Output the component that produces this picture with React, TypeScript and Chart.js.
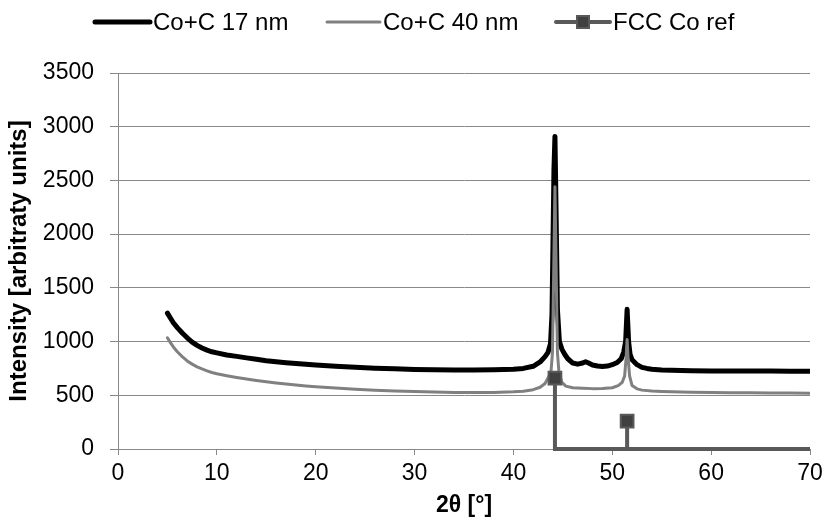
import React, { useEffect, useRef } from "react";
import { Chart, registerables } from "chart.js";

Chart.register(...registerables);

// XRD patterns: 2θ (degrees) vs intensity (arbitrary units)
const twoTheta17 = [
  5.0, 5.3, 5.6, 6.0, 6.5, 7.0, 7.5, 8.0, 8.5, 9.0, 9.5, 10.0, 11, 12, 13, 14, 15, 16, 17, 18, 19, 20,
  22, 24, 26, 28, 30, 32, 34, 36, 38, 40, 41, 42, 42.7, 43.2, 43.5, 43.75, 43.9, 44.0, 44.1, 44.2,
  44.3, 44.45, 44.65, 44.9, 45.2, 45.5, 46.0, 46.5, 47.0, 47.3, 47.6, 48.0, 48.5, 49.0, 49.5, 50.0,
  50.5, 50.9, 51.15, 51.35, 51.5, 51.65, 51.8, 52.0, 52.5, 53.0, 53.5, 54.0, 55, 56, 58, 60, 62, 64,
  66, 68, 70,
];
const intensity17 = [
  1265, 1220, 1175, 1130, 1080, 1035, 995, 965, 940, 920, 905, 895, 875, 862, 848, 835, 822, 812, 803,
  795, 788, 782, 770, 760, 752, 746, 741, 738, 736, 735, 737, 742, 750, 770, 810, 860, 900, 980, 1250,
  1900, 2600, 2910, 2300, 1300, 1000, 930, 880, 840, 800, 790, 800, 812, 800, 782, 772, 768, 772, 785,
  805, 840, 900, 1000, 1300, 1000, 880, 830, 785, 760, 750, 742, 735, 732, 728, 727, 726, 725, 725,
  724, 724,
];

const twoTheta40 = [
  5.0, 5.3, 5.6, 6.0, 6.5, 7.0, 7.5, 8.0, 8.5, 9.0, 9.5, 10.0, 11, 12, 13, 14, 15, 16, 17, 18, 19, 20,
  22, 24, 26, 28, 30, 32, 34, 36, 38, 40, 41, 42, 42.7, 43.2, 43.5, 43.8, 43.95, 44.05, 44.2, 44.35,
  44.45, 44.6, 44.9, 45.3, 46, 47, 48, 49, 50, 50.6, 51.0, 51.25, 51.4, 51.5, 51.6, 51.75, 52.0, 52.5,
  53, 54, 55, 56, 58, 60, 62, 64, 66, 68, 70,
];
const intensity40 = [
  1035, 990, 950, 905, 860, 820, 790, 765, 745, 728, 712, 700, 682, 666, 652, 638, 625, 614, 604, 595,
  587, 580, 568, 557, 548, 541, 535, 530, 527, 526, 527, 532, 538, 552, 575, 610, 660, 720, 900, 1500,
  2440, 1500, 900, 720, 620, 585, 570, 565, 562, 563, 570, 590, 620, 680, 850, 1020, 850, 680, 590,
  560, 548, 540, 535, 532, 528, 526, 524, 523, 522, 521, 520,
];

// FCC cobalt reference reflections drawn as sticks on the baseline
const refTwoTheta = [44.2, 44.2, 51.5, 51.5, 51.5, 70];
const refIntensity = [660, 0, 0, 260, 0, 0];

const seriesLabels = ["Co+C 17 nm", "Co+C 40 nm", "FCC Co ref"];
const xTickValues = [0, 10, 20, 30, 40, 50, 60, 70];
const yTickValues = [0, 500, 1000, 1500, 2000, 2500, 3000, 3500];

const FONT = "'Liberation Sans', Arial, sans-serif";
const GRID = "#888888";
const COLORS = ["#000000", "#808080", "#595959"];

const toPoints = (xs: number[], ys: number[]) => xs.map((x, i) => ({ x, y: ys[i] }));

const topLegend = {
  id: "topLegend",
  afterDraw(chart: any) {
    const ctx = chart.ctx as CanvasRenderingContext2D;
    const y = 22;
    const items = [
      { x0: 95, x1: 150, width: 5, color: COLORS[0], marker: false },
      { x0: 327, x1: 380, width: 3, color: COLORS[1], marker: false },
      { x0: 556, x1: 610, width: 4, color: COLORS[2], marker: true },
    ];
    ctx.save();
    ctx.font = `24px ${FONT}`;
    ctx.textBaseline = "middle";
    ctx.textAlign = "left";
    items.forEach((it, i) => {
      ctx.strokeStyle = it.color;
      ctx.lineWidth = it.width;
      ctx.lineCap = "round";
      ctx.beginPath();
      ctx.moveTo(it.x0, y);
      ctx.lineTo(it.x1, y);
      ctx.stroke();
      if (it.marker) {
        const cx = (it.x0 + it.x1) / 2;
        ctx.fillStyle = "#404040";
        ctx.strokeStyle = COLORS[2];
        ctx.lineWidth = 2;
        ctx.fillRect(cx - 6, y - 6, 12, 12);
        ctx.strokeRect(cx - 6, y - 6, 12, 12);
      }
      ctx.fillStyle = "#000";
      ctx.fillText(seriesLabels[i], it.x1 + 3, y + 1);
    });
    ctx.restore();
  },
};

export default function App() {
  const canvasRef = useRef<HTMLCanvasElement | null>(null);

  useEffect(() => {
    if (!canvasRef.current) return;
    const chart = new Chart(canvasRef.current, {
      type: "line",
      data: {
        datasets: [
          {
            label: seriesLabels[0],
            data: toPoints(twoTheta17, intensity17),
            borderColor: COLORS[0],
            borderWidth: 5,
            pointRadius: 0,
            borderJoinStyle: "round",
            borderCapStyle: "round",
            order: 2,
          },
          {
            label: seriesLabels[1],
            data: toPoints(twoTheta40, intensity40),
            borderColor: COLORS[1],
            borderWidth: 3,
            pointRadius: 0,
            borderJoinStyle: "round",
            borderCapStyle: "round",
            order: 1,
          },
          {
            label: seriesLabels[2],
            data: toPoints(refTwoTheta, refIntensity),
            borderColor: COLORS[2],
            borderWidth: 4,
            pointStyle: "rect",
            pointRadius: (c: any) => (c.raw && c.raw.y > 0 ? 9 : 0),
            pointBackgroundColor: "#404040",
            pointBorderColor: COLORS[2],
            pointBorderWidth: 2,
            clip: false,
            order: 0,
          } as any,
        ],
      },
      options: {
        responsive: false,
        animation: false,
        devicePixelRatio: 1,
        layout: { padding: { top: 73, right: 14, bottom: 0, left: 0 } },
        plugins: {
          legend: { display: false },
          tooltip: { enabled: false },
        },
        scales: {
          x: {
            type: "linear",
            min: 0,
            max: 70,
            afterBuildTicks: (s: any) => {
              s.ticks = xTickValues.map((v) => ({ value: v }));
            },
            afterFit: (s: any) => {
              s.height = 74;
              s.paddingLeft = 0;
              s.paddingRight = 0;
            },
            ticks: {
              color: "#000",
              font: { family: FONT, size: 23 },
              padding: 5,
              maxRotation: 0,
              callback: (v: any) => String(v),
            },
            grid: { drawOnChartArea: false, tickLength: 6, tickColor: GRID, lineWidth: 1 },
            border: { color: GRID, width: 1 },
            title: {
              display: true,
              text: "2θ [°]",
              color: "#000",
              font: { family: FONT, size: 23, weight: "bold" },
              padding: { top: 0, bottom: 4 },
            },
          },
          y: {
            type: "linear",
            min: 0,
            max: 3500,
            afterBuildTicks: (s: any) => {
              s.ticks = yTickValues.map((v) => ({ value: v }));
            },
            afterFit: (s: any) => {
              s.width = 118;
              s.paddingTop = 0;
              s.paddingBottom = 0;
            },
            ticks: {
              color: "#000",
              font: { family: FONT, size: 23 },
              padding: 16,
              callback: (v: any) => String(v),
            },
            grid: { color: GRID, tickLength: 8, tickColor: GRID, lineWidth: 1 },
            border: { color: GRID, width: 1 },
            title: {
              display: true,
              text: "Intensity [arbitraty units]",
              color: "#000",
              font: { family: FONT, size: 24, weight: "bold" },
              padding: { top: 5, bottom: 0 },
            },
          },
        },
      },
      plugins: [topLegend],
    } as any);
    return () => chart.destroy();
  }, []);

  return (
    <div style={{ position: "absolute", left: 0, top: 0, width: 824, height: 523, background: "#fff" }}>
      <canvas ref={canvasRef} width={824} height={523} style={{ display: "block" }} />
    </div>
  );
}
